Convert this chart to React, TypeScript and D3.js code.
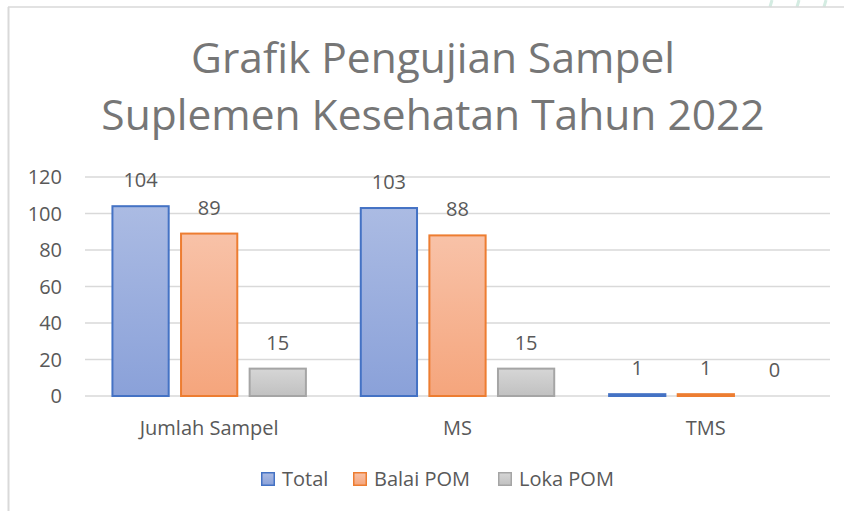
import * as d3 from 'd3';

const categories = ['Jumlah Sampel', 'MS', 'TMS'];
const seriesNames = ['Total', 'Balai POM', 'Loka POM'];
const totalValues = [104, 103, 1];
const balaiValues = [89, 88, 1];
const lokaValues = [15, 15, 0];
const yTicks = [0, 20, 40, 60, 80, 100, 120];
const titleLines = ['Grafik Pengujian Sampel', 'Suplemen Kesehatan Tahun 2022'];

const W = 844;
const H = 511;
const FONT = '"Open Sans", sans-serif';
const TEXT = '#595959';

const palette = [
  { stroke: '#4472c4', top: '#abbbe3', bottom: '#8aa1d9' },
  { stroke: '#ed7d31', top: '#f8c2a8', bottom: '#f5a57c' },
  { stroke: '#a5a5a5', top: '#d6d6d6', bottom: '#c1c1c1' },
];

export default function App() {
  const series = [totalValues, balaiValues, lokaValues];
  const plot = { left: 85, right: 830, top: 177, bottom: 396 };

  const x0 = d3.scaleBand<string>().domain(categories).range([plot.left, plot.right]);
  const x1 = d3.scaleBand<string>().domain(seriesNames).range([0, x0.bandwidth()]).paddingInner(0.18).paddingOuter(0.4);
  const y = d3.scaleLinear().domain([0, 120]).range([plot.bottom, plot.top]);

  const legendBox = [261, 353, 498];

  return (
    <svg width={W} height={H} style={{ position: 'absolute', left: 0, top: 0, background: '#fff' }}>
      <defs>
        {palette.map((p, i) => (
          <linearGradient key={i} id={`g${i}`} x1="0" y1="0" x2="0" y2="1">
            <stop offset="0" stopColor={p.top} />
            <stop offset="1" stopColor={p.bottom} />
          </linearGradient>
        ))}
      </defs>
      <rect x={0} y={0} width={W} height={H} fill="#fff" />
      {/* decorative stripes at the top right */}
      {[770, 797, 824].map((sx) => (
        <line key={sx} x1={sx + 2} y1={0} x2={sx} y2={7} stroke="#d4ece2" strokeWidth={3} />
      ))}
      {/* chart frame */}
      <line x1={8} y1={7} x2={W} y2={7} stroke="#d9d9d9" strokeWidth={1.5} />
      <line x1={8.5} y1={7} x2={8.5} y2={H} stroke="#d9d9d9" strokeWidth={2} />

      {titleLines.map((t, i) => (
        <text key={t} x={433} y={73 + i * 57} textAnchor="middle" fontFamily={FONT} fontSize={42.5} fill="#767676">
          {t}
        </text>
      ))}

      {yTicks.map((t) => (
        <g key={t}>
          <line x1={plot.left} x2={plot.right} y1={y(t)} y2={y(t)} stroke="#d9d9d9" strokeWidth={1.5} />
          <text x={62} y={y(t)} dy="0.36em" textAnchor="end" fontFamily={FONT} fontSize={20} fill={TEXT}>
            {t}
          </text>
        </g>
      ))}

      {categories.map((c, ci) => (
        <g key={c}>
          {series.map((vals, si) => {
            const bx = (x0(c) as number) + (x1(seriesNames[si]) as number);
            const bw = x1.bandwidth();
            const v = vals[ci];
            const top = y(v);
            return (
              <g key={si}>
                {v > 0 && (
                  <rect x={bx} y={top} width={bw} height={plot.bottom - top} fill={`url(#g${si})`} stroke={palette[si].stroke} strokeWidth={2} />
                )}
                <text x={bx + bw / 2} y={top - 19} textAnchor="middle" fontFamily={FONT} fontSize={20} fill={TEXT}>
                  {v}
                </text>
              </g>
            );
          })}
          <text x={(x0(c) as number) + x0.bandwidth() / 2} y={435} textAnchor="middle" fontFamily={FONT} fontSize={20} fill={TEXT}>
            {c}
          </text>
        </g>
      ))}

      {/* legend */}
      {seriesNames.map((s, i) => (
        <g key={s} transform={`translate(${legendBox[i]},472)`}>
          <rect x={0.75} y={0.75} width={12.5} height={12.5} fill={`url(#g${i})`} stroke={palette[i].stroke} strokeWidth={1.5} />
          <text x={21} y={7} dy="0.36em" fontFamily={FONT} fontSize={20} fill={TEXT}>
            {s}
          </text>
        </g>
      ))}
    </svg>
  );
}
